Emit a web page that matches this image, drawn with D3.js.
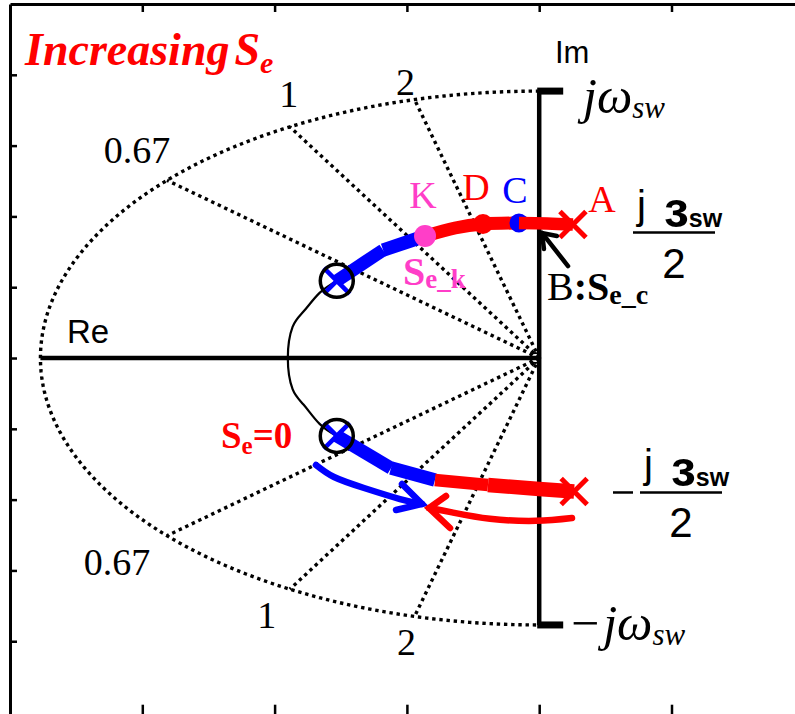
<!DOCTYPE html>
<html>
<head>
<meta charset="utf-8">
<script src="https://cdn.jsdelivr.net/npm/d3@7"></script>
<style>
  body { margin: 0; background: #fff; }
  svg { display: block; }
</style>
</head>
<body>
<svg id="chart" width="795" height="714"></svg>
<script>
// Units: 1e5 rad/s on both axes
const omegaSw = 3.77;                 // switching angular frequency
const qValues = [0.67, 1, 2];         // constant-Q rays, zeta = 1/(2Q)
const xTicks = [-3, -2, -1, 0, 1];
const yTicks = [-4, -3, -2, -1, 0, 1, 2, 3, 4];

// Root-locus branches, split by colour (start at Se = 0)
const upperBlueA = [[-1.53, 1.09], [-1.18, 1.525]];
const upperBlueB = [[-1.18, 1.525], [-0.863, 1.723]];
const upperRedA  = [[-0.863, 1.723], [-0.636, 1.836], [-0.425, 1.893], [-0.153, 1.907]];
const upperRedB  = [[-0.153, 1.907], [0.06, 1.900], [0.255, 1.885]];
const lowerBlueA = [[-1.53, -1.10], [-1.12, -1.554]];
const lowerBlueB = [[-1.12, -1.554], [-0.788, -1.723]];
const lowerRedA  = [[-0.788, -1.723], [-0.387, -1.794]];
const lowerRedB  = [[-0.387, -1.794], [0.00, -1.850], [0.264, -1.885]];

// Thin locus joining the two Se = 0 poles on the left
const thinLocus = [[-1.53, 1.09], [-1.66, 0.92], [-1.78, 0.66], [-1.864, 0.44], [-1.90, 0.0],
                   [-1.864, -0.44], [-1.78, -0.66], [-1.66, -0.93], [-1.53, -1.10]];

const polesStart = [[-1.53, 1.09], [-1.53, -1.10]];
const polesEnd   = [[0.255, 1.885], [0.264, -1.885]];
const pointK = [-0.863, 1.723];
const pointD = [-0.425, 1.893];
const pointC = [-0.153, 1.907];
const zeroMark = [-0.03, 0];

// Direction arrows
const blueArrow = [[-1.687, -1.511], [-1.551, -1.681], [-1.324, -1.836], [-1.052, -1.992], [-0.886, -2.062]];
const blueArrowHead = [[-1.037, -1.780], [-0.886, -2.062], [-1.082, -2.147]];
const redArrow = [[0.248, -2.260], [-0.024, -2.300], [-0.372, -2.270], [-0.659, -2.180], [-0.833, -2.119]];
const redArrowHead = [[-0.704, -1.949], [-0.833, -2.119], [-0.674, -2.401]];
const bArrow = [[0.218, 1.299], [0.021, 1.766]];
const bArrowHead = [[0.036, 1.540], [0.021, 1.766], [0.134, 1.723]];

const RED = "#ff0000", BLUE = "#0000ff", PINK = "#ff3ec8";
const SERIF = "'Liberation Serif','Times New Roman',serif";
const SANS = "'Liberation Sans',Arial,sans-serif";

const svg = d3.select("#chart");
const x = d3.scaleLinear().domain([-4, 2]).range([10, 803.8]);
const y = d3.scaleLinear().domain([-5.08, 5]).range([717.7, 4]);

const line = d3.line().x(d => x(d[0])).y(d => y(d[1]));
const smooth = d3.line().x(d => x(d[0])).y(d => y(d[1])).curve(d3.curveNatural);

// Frame and ticks
function styleAxis(g, w) {
  g.select(".domain").attr("stroke", "#000").attr("stroke-width", w);
  g.selectAll(".tick line").attr("stroke", "#000").attr("stroke-width", 2.5);
}
svg.append("g").attr("transform", `translate(${x(-4)},0)`)
  .call(d3.axisLeft(y).tickValues(yTicks).tickSizeInner(-7).tickSizeOuter(0).tickFormat(""))
  .call(g => styleAxis(g, 3));
svg.append("g").attr("transform", `translate(0,${y(5)})`)
  .call(d3.axisTop(x).tickValues(xTicks).tickSizeInner(-8).tickSizeOuter(0).tickFormat(""))
  .call(g => styleAxis(g, 3));
svg.append("g").attr("transform", `translate(0,${y(-5.08)})`)
  .call(d3.axisBottom(x).tickValues(xTicks).tickSizeInner(-13).tickSizeOuter(0).tickFormat(""))
  .call(g => styleAxis(g, 3));

// Dotted grid: |s| = omegaSw half circle and constant-Q rays
const dotted = { stroke: "#000", "stroke-width": 3.4, "stroke-dasharray": "3.4,3.8", fill: "none" };
function applyAttrs(sel, attrs) { Object.entries(attrs).forEach(([k, v]) => sel.attr(k, v)); return sel; }

const arcPts = d3.range(90, 270.01, 1).map(a => [omegaSw * Math.cos(a * Math.PI / 180), omegaSw * Math.sin(a * Math.PI / 180)]);
applyAttrs(svg.append("path").attr("d", line(arcPts)), dotted);

const rays = [];
qValues.forEach(q => {
  const z = 1 / (2 * q), w = Math.sqrt(1 - z * z);
  rays.push({ q, sign: 1, end: [-omegaSw * z, omegaSw * w] });
  rays.push({ q, sign: -1, end: [-omegaSw * z, -omegaSw * w] });
});
rays.forEach(r => applyAttrs(svg.append("path").attr("d", line([[0, 0], r.end])), dotted));

// Q labels beside the ray ends
const qLabelOffset = {
  "0.67,1": [-30, -17], "1,1": [-1, -20], "2,1": [-9, -5],
  "0.67,-1": [-50, 39], "1,-1": [-23, 39], "2,-1": [-8, 39]
};
rays.forEach(r => {
  const o = qLabelOffset[`${r.q},${r.sign}`];
  svg.append("text").attr("x", x(r.end[0]) + o[0]).attr("y", y(r.end[1]) + o[1])
    .attr("text-anchor", "middle").attr("font-family", SERIF).attr("font-size", 38)
    .text(r.q);
});

// Real and imaginary axes
svg.append("line").attr("x1", x(-omegaSw)).attr("x2", x(0)).attr("y1", y(0)).attr("y2", y(0))
  .attr("stroke", "#000").attr("stroke-width", 4.5);
svg.append("line").attr("x1", x(0)).attr("x2", x(0)).attr("y1", y(omegaSw)).attr("y2", y(-omegaSw))
  .attr("stroke", "#000").attr("stroke-width", 4.5);
[omegaSw, -omegaSw].forEach(v => {
  svg.append("line").attr("x1", x(0) - 2).attr("x2", x(0) + 24).attr("y1", y(v)).attr("y2", y(v))
    .attr("stroke", "#000").attr("stroke-width", 7);
});

// Thin locus and zero mark
svg.append("path").attr("d", smooth(thinLocus)).attr("fill", "none").attr("stroke", "#000").attr("stroke-width", 2.2);
svg.append("circle").attr("cx", x(zeroMark[0])).attr("cy", y(zeroMark[1])).attr("r", 5)
  .attr("fill", "none").attr("stroke", "#000").attr("stroke-width", 2);

// Thick locus segments
function seg(pts, color, w) {
  svg.append("path").attr("d", smooth(pts)).attr("fill", "none")
    .attr("stroke", color).attr("stroke-width", w).attr("stroke-linecap", "butt");
}
seg(upperBlueA, BLUE, 13);
seg(upperBlueB, BLUE, 13.5);
seg(upperRedA, RED, 13);
seg(lowerBlueA, BLUE, 13);
seg(lowerBlueB, BLUE, 13.5);
seg(lowerRedA, RED, 12.5);
seg(lowerRedB, RED, 14.5);

// Points C and D and the final red branch
svg.append("circle").attr("cx", x(pointD[0])).attr("cy", y(pointD[1])).attr("r", 10).attr("fill", RED);
svg.append("circle").attr("cx", x(pointC[0])).attr("cy", y(pointC[1])).attr("r", 9.5).attr("fill", BLUE);
seg(upperRedB, RED, 12.5);
svg.append("circle").attr("cx", x(pointK[0])).attr("cy", y(pointK[1])).attr("r", 11).attr("fill", PINK);

// Pole markers
function cross(p, color, s, w) {
  const cx = x(p[0]), cy = y(p[1]);
  svg.append("path").attr("d", `M${cx - s},${cy - s}L${cx + s},${cy + s}M${cx - s},${cy + s}L${cx + s},${cy - s}`)
    .attr("stroke", color).attr("stroke-width", w).attr("fill", "none");
}
polesStart.forEach(p => {
  cross(p, BLUE, 13, 4.5);
  svg.append("circle").attr("cx", x(p[0])).attr("cy", y(p[1])).attr("r", 16.5)
    .attr("fill", "none").attr("stroke", "#000").attr("stroke-width", 3.5);
});
polesEnd.forEach(p => cross(p, RED, 13, 5));

// Arrows
function arrow(body, head, color, w) {
  svg.append("path").attr("d", smooth(body)).attr("fill", "none").attr("stroke", color)
    .attr("stroke-width", w).attr("stroke-linecap", "round");
  svg.append("path").attr("d", line(head)).attr("fill", "none").attr("stroke", color)
    .attr("stroke-width", w).attr("stroke-linecap", "round").attr("stroke-linejoin", "miter");
}
arrow(blueArrow, blueArrowHead, BLUE, 6.5);
arrow(redArrow, redArrowHead, RED, 6.5);
arrow(bArrow, bArrowHead, "#000", 4.5);

// Text
function txt(px, py, opts) {
  const t = svg.append("text").attr("x", px).attr("y", py)
    .attr("font-family", opts.family || SERIF).attr("font-size", opts.size || 38)
    .attr("fill", opts.color || "#000");
  if (opts.anchor) t.attr("text-anchor", opts.anchor);
  if (opts.weight) t.attr("font-weight", opts.weight);
  if (opts.style) t.attr("font-style", opts.style);
  return t;
}

// Title
const title = txt(25, 65, { size: 46, color: RED, weight: "bold", style: "italic" });
title.append("tspan").text("Increasing");
title.append("tspan").attr("dx", 5).text("S");
title.append("tspan").attr("font-size", 30).attr("dy", 8).text("e");

txt(67, 343, { family: SANS, size: 33 }).text("Re");
txt(555, 63, { family: SANS, size: 31 }).text("Im");

// ± j omega_sw labels
const wTop = txt(583, 113, { size: 50, style: "italic" });
wTop.append("tspan").text("jω");
wTop.append("tspan").attr("font-size", 31).attr("dy", 5).text("sw");
const wBot = txt(571, 640, { size: 50 });
wBot.append("tspan").text("−");
wBot.append("tspan").attr("dx", 4).attr("font-style", "italic").text("jω");
wBot.append("tspan").attr("font-size", 31).attr("dy", 5).attr("font-style", "italic").text("sw");

// ± j omega_sw / 2 fractions
function fraction(left, barY, minus) {
  if (minus) {
    svg.append("line").attr("x1", left - 27).attr("x2", left - 7).attr("y1", barY).attr("y2", barY)
      .attr("stroke", "#000").attr("stroke-width", 2.5);
  }
  txt(left + 4, barY - 14, { family: SANS, size: 40 }).text("j");
  const num = txt(left + 31, barY - 6, { family: SANS, size: 50, weight: "bold" });
  num.append("tspan").text("ɜ");
  num.append("tspan").attr("font-size", 25).text("sw");
  svg.append("line").attr("x1", left).attr("x2", left + 82).attr("y1", barY).attr("y2", barY)
    .attr("stroke", "#000").attr("stroke-width", 2.5);
  txt(left + 41, barY + 45, { family: SANS, size: 42, anchor: "middle" }).text("2");
}
fraction(633, y(omegaSw / 2) + 8, false);
fraction(640, y(-omegaSw / 2) + 1, true);

// Point letters
txt(x(pointK[0]) - 2, 208, { color: PINK, anchor: "middle" }).text("K");
txt(x(pointD[0]) - 7, 200, { color: RED, anchor: "middle" }).text("D");
txt(x(pointC[0]) - 4, 203, { color: BLUE, anchor: "middle" }).text("C");
txt(x(polesEnd[0][0]) + 29, 212, { color: RED, anchor: "middle" }).text("A");

// S_e_k
const sek = txt(403, 285, { size: 40, color: PINK, weight: "bold" });
sek.append("tspan").text("S");
sek.append("tspan").attr("font-size", 27).attr("dy", 3).text("e_k");

// B:S_e_c
const bsec = txt(547, 300, { size: 40 });
bsec.append("tspan").text("B");
bsec.append("tspan").attr("font-weight", "bold").text(":");
bsec.append("tspan").attr("font-weight", "bold").text("S");
bsec.append("tspan").attr("font-weight", "bold").attr("font-size", 28).attr("dy", 4).text("e_c");

// S_e = 0
const se0 = txt(221, 448, { size: 37, color: RED, weight: "bold" });
se0.append("tspan").text("S");
se0.append("tspan").attr("font-size", 25).attr("dy", 6).text("e");
se0.append("tspan").attr("dy", -6).text("=0");
</script>
</body>
</html>
